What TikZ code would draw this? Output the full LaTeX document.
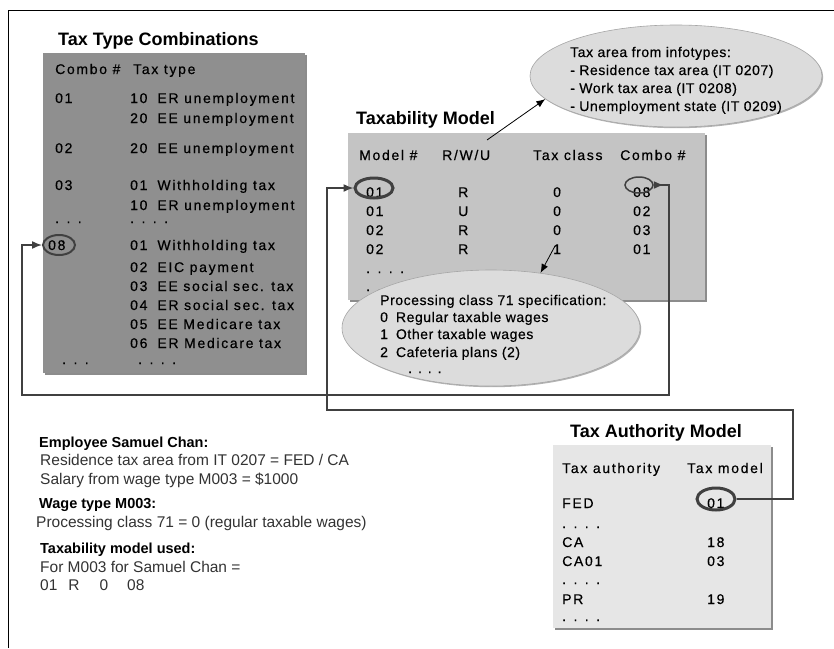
\documentclass[tikz,border=0pt]{standalone}
\usepackage{fontspec}
\setmainfont{Liberation Sans}
\newfontfamily\tabfont[LetterSpace=12,FakeBold=0.5]{Liberation Sans}
\newfontfamily\ellfont[LetterSpace=4,FakeBold=0.4]{Liberation Sans}
\usetikzlibrary{arrows.meta,shapes.geometric,shadows}
\definecolor{darkbox}{HTML}{8F8F8F}
\definecolor{midbox}{HTML}{C4C4C4}
\definecolor{lightbox}{HTML}{E6E6E6}
\definecolor{bubblefill}{HTML}{DCDCDC}
\definecolor{wirecol}{HTML}{404040}
\newcommand\tabtext{\tabfont\fontsize{14}{17}\selectfont}
\newcommand\elltext{\ellfont\fontsize{14}{17}\selectfont}
\newcommand\cgap{\hspace{10pt}}

\begin{document}
\begin{tikzpicture}[x=1pt, y=-1pt]
\useasboundingbox (0,0) rectangle (834,648);
\fill[white] (0,0) rectangle (834,648);
\draw[line width=1pt] (8,648) -- (8,10) -- (834,10);
\tikzstyle{box} = [rectangle, inner sep=0pt, anchor=north west,
  drop shadow={shadow xshift=1.5pt, shadow yshift=-1.5pt, fill=black!45, opacity=1}]
\tikzstyle{ttl} = [inner sep=0pt, anchor=base west, font=\bfseries\fontsize{18}{20}\selectfont]
\node[box, fill=darkbox, minimum width=262, minimum height=320] (ttc) at (43,53) {};
\node[box, fill=midbox, minimum width=357, minimum height=167] (tm) at (348,133) {};
\node[box, fill=lightbox, minimum width=218, minimum height=183] (tam) at (553,445) {};
\node[ttl] (ttct) at (58,45) {Tax Type Combinations};
\node[ttl] (tmt) at (356,124) {Taxability Model};
\node[ttl] (tamt) at (570,437) {Tax Authority Model};
\tikzstyle{every node} = [inner sep=0pt, anchor=base west, font=\tabtext]
% tax type combinations
\node (hc) at (55,74) {Combo \#};
\node (ht) at (133,74) {Tax type};
\node (c01) at (55,103) {01};
\node (t10) at (130,103) {10\cgap ER unemployment};
\node (t20) at (130,123) {20\cgap EE unemployment};
\node (c02) at (55,153) {02};
\node (t20b) at (130,153) {20\cgap EE unemployment};
\node (c03) at (55,190) {03};
\node (t01) at (130,190) {01\cgap Withholding tax};
\node (t10b) at (130,210) {10\cgap ER unemployment};
\node (cd1) at (55,223) {. . .};
\node (td1) at (130,223) {. . . .};
\node (c08) at (48,250) {08};
\node (t01b) at (130,250) {01\cgap Withholding tax};
\node (t02) at (130,272) {02\cgap EIC payment};
\node (t03) at (130,291) {03\cgap EE social sec. tax};
\node (t04) at (130,310) {04\cgap ER social sec. tax};
\node (t05) at (130,329) {05\cgap EE Medicare tax};
\node (t06) at (130,348) {06\cgap ER Medicare tax};
\node (cd2) at (62,364) {. . .};
\node (td2) at (138,364) {. . . .};
% taxability model
\node (hm) at (359,160) {Model \#};
\node (hr) at (442,160) {R/W/U};
\node (hx) at (533,160) {Tax class};
\node (hk) at (620,160) {Combo \#};
\node (m1) at (366,197) {01};
\node (r1) at (458,197) {R};
\node (x1) at (553,197) {0};
\node (k1) at (633,197) {08};
\node (m2) at (366,216) {01};
\node (r2) at (458,216) {U};
\node (x2) at (553,216) {0};
\node (k2) at (633,216) {02};
\node (m3) at (366,235) {02};
\node (r3) at (458,235) {R};
\node (x3) at (553,235) {0};
\node (k3) at (633,235) {03};
\node (m4) at (366,254) {02};
\node (r4) at (458,254) {R};
\node (x4) at (553,254) {1};
\node (k4) at (633,254) {01};
\node (md1) at (366,273) {. . . .};
\node (md2) at (366,291) {. . .};
% tax authority model
\node (ha) at (562,473) {Tax authority};
\node (hv) at (687,473) {Tax model};
\node (fed) at (562,508) {FED};
\node (v01) at (707,508) {01};
\node (ad1) at (562,528) {. . . .};
\node (ca) at (562,547) {CA};
\node (v18) at (707,547) {18};
\node (ca01) at (562,566) {CA01};
\node (v03) at (707,566) {03};
\node (ad2) at (562,584) {. . . .};
\node (pr) at (562,604) {PR};
\node (v19) at (707,604) {19};
\node (ad3) at (562,621) {. . . .};
% bubbles
\tikzstyle{bubble} = [ellipse, fill=bubblefill, draw=black!35, line width=0.6pt, anchor=center,
  drop shadow={shadow xshift=1.2pt, shadow yshift=-1.2pt, fill=black!30, opacity=1}]
\node[bubble, minimum width=292, minimum height=102] (e1) at (676,76) {};
\node[bubble, minimum width=298, minimum height=116] (e2) at (491,328) {};
\tikzstyle{every node} = [inner sep=0pt, anchor=base west, font=\elltext]
\node (e1a) at (570,57) {Tax area from infotypes:};
\node (e1b) at (570,75) {- Residence tax area (IT 0207)};
\node (e1c) at (570,93) {- Work tax area (IT 0208)};
\node (e1d) at (570,111) {- Unemployment state (IT 0209)};
\node (e2a) at (380,305) {Processing class 71 specification:};
\node (e2b) at (380,322) {0\hspace{8pt}Regular taxable wages};
\node (e2c) at (380,339) {1\hspace{8pt}Other taxable wages};
\node (e2d) at (380,357) {2\hspace{8pt}Cafeteria plans (2)};
\node (e2e) at (408,373) {. . . .};
% employee notes
\tikzstyle{every node} = [inner sep=0pt, anchor=base west, text=black!80, font=\fontsize{15.5}{18}\selectfont]
\tikzstyle{notebf} = [text=black, font=\bfseries\fontsize{14.5}{17}\selectfont]
\node[notebf] (emp) at (39,447) {Employee Samuel Chan:};
\node (res) at (40,465) {Residence tax area from IT 0207 = FED / CA};
\node (sal) at (40,484) {Salary from wage type M003 = \$1000};
\node[notebf] (wage) at (39,508) {Wage type M003:};
\node (proc) at (36,527) {Processing class 71 = 0 (regular taxable wages)};
\node[notebf] (used) at (40,553) {Taxability model used:};
\node (for) at (40,572) {For M003 for Samuel Chan =};
\node (pick) at (40,590) {01\hspace{11pt}R\hspace{20pt}0\hspace{19pt}08};
% rings
\tikzstyle{ring} = [ellipse, draw=wirecol, inner sep=0pt, anchor=center]
\node[ring, line width=2pt, minimum width=32, minimum height=20] (ttc08) at (59,245) {};
\node[ring, line width=3pt, minimum width=38, minimum height=20] (tm01) at (374,188) {};
\node[ring, line width=1.5pt, minimum width=28, minimum height=16] (tm08) at (639,185) {};
\node[ring, line width=3pt, minimum width=38, minimum height=22] (tam01) at (716,499) {};
% connectors
\tikzstyle{link} = [draw=wirecol, line width=1.5pt]
\tikzstyle{pointer} = [draw=black, line width=0.8pt, -{Latex[length=9pt,width=7pt]}]
\coordinate (ar) at (669,395);
\coordinate (al) at (22,395);
\coordinate (br) at (793,410);
\coordinate (bl) at (327,410);
\coordinate (a1) at (487,140);
\coordinate (a2) at (555,246);
\draw[link, {Latex[reversed,length=10pt,width=8pt]}-{Latex[length=10pt,width=8pt]}]
  (tm08.east) -| (ar) -- (al) |- (ttc08.west);
\draw[link, -{Latex[length=10pt,width=8pt]}] (tam01.east) -| (br) -- (bl) |- (tm01.west);
\draw[pointer] (a1) -- (e1.190);
\draw[pointer] (a2) -- (e2.48);
\end{tikzpicture}
\end{document}
